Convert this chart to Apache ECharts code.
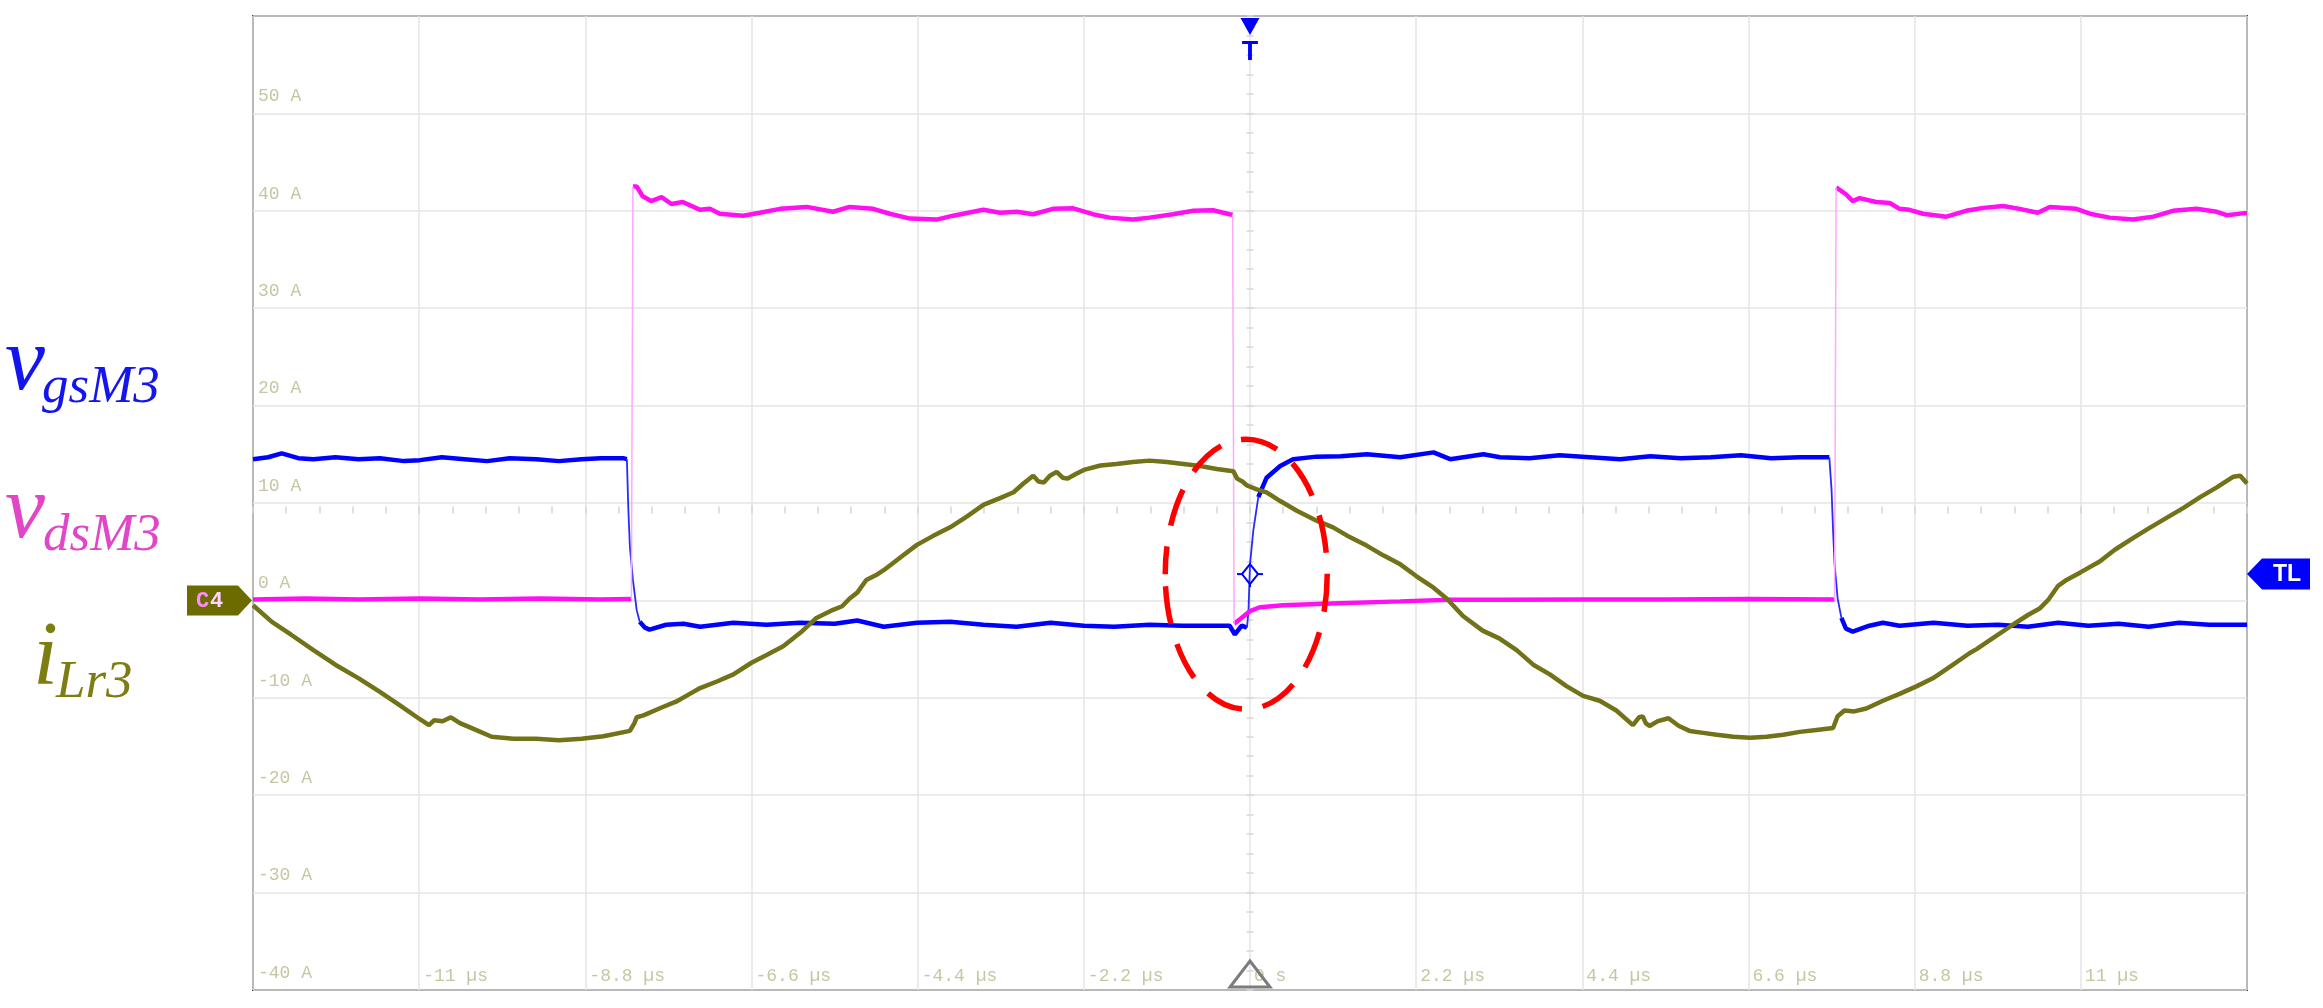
<!DOCTYPE html>
<html><head><meta charset="utf-8">
<script src="https://cdn.jsdelivr.net/npm/echarts@6/dist/echarts.min.js"></script>
<style>html,body{margin:0;padding:0;background:#fff;} #c{width:2323px;height:1008px;}</style>
</head><body><div id="c"></div>
<script>
// ---- tick labels ----
const xTickLabels = ['', '-11 µs', '-8.8 µs', '-6.6 µs', '-4.4 µs', '-2.2 µs', '0 s', '2.2 µs', '4.4 µs', '6.6 µs', '8.8 µs', '11 µs', ''];
const yTickLabels = ['-40 A', '-30 A', '-20 A', '-10 A', '0 A', '10 A', '20 A', '30 A', '40 A', '50 A', ''];

// ---- iLr3 (olive) [time µs, value] ----
const iLr3 = [[-13.2,-0.5],[-12.95,-2.2],[-12.7,-3.5],[-12.4,-5.1],[-12.11,-6.6],[-11.8,-8.0],[-11.52,-9.4],[-11.25,-10.8],[-10.99,-12.2],[-10.87,-12.8],[-10.8,-12.3],[-10.69,-12.4],[-10.58,-12.0],[-10.46,-12.6],[-10.25,-13.3],[-10.04,-14.0],[-9.75,-14.2],[-9.45,-14.2],[-9.15,-14.35],[-8.85,-14.2],[-8.56,-13.95],[-8.21,-13.4],[-8.15,-12.6],[-8.12,-12.0],[-8.03,-11.8],[-7.79,-11.0],[-7.6,-10.4],[-7.44,-9.7],[-7.28,-9.0],[-7.05,-8.3],[-6.84,-7.6],[-6.6,-6.4],[-6.4,-5.6],[-6.18,-4.7],[-5.95,-3.3],[-5.74,-1.8],[-5.52,-0.97],[-5.4,-0.6],[-5.3,0.2],[-5.2,0.8],[-5.08,2.1],[-4.95,2.6],[-4.85,3.1],[-4.63,4.4],[-4.41,5.7],[-4.2,6.6],[-3.97,7.5],[-3.75,8.6],[-3.53,9.8],[-3.31,10.5],[-3.13,11.1],[-3.0,12.0],[-2.87,12.8],[-2.8,12.2],[-2.73,12.1],[-2.65,12.8],[-2.56,13.2],[-2.48,12.6],[-2.42,12.5],[-2.3,13.0],[-2.2,13.4],[-1.98,13.85],[-1.77,14.0],[-1.55,14.2],[-1.33,14.35],[-1.1,14.2],[-0.88,14.0],[-0.66,13.8],[-0.44,13.5],[-0.22,13.25],[-0.17,12.5],[-0.1,12.2],[-0.04,11.8],[0.09,11.4],[0.22,11.1],[0.4,10.2],[0.62,9.2],[0.85,8.3],[1.1,7.5],[1.32,6.5],[1.55,5.6],[1.77,4.6],[1.99,3.7],[2.2,2.5],[2.43,1.3],[2.61,0.14],[2.82,-1.6],[3.08,-3.1],[3.3,-3.9],[3.53,-5.1],[3.75,-6.6],[3.97,-7.6],[4.19,-8.8],[4.41,-9.8],[4.63,-10.3],[4.85,-11.3],[5.07,-12.8],[5.15,-12.0],[5.2,-11.9],[5.24,-12.6],[5.29,-12.9],[5.4,-12.4],[5.54,-12.1],[5.68,-12.9],[5.82,-13.4],[6.0,-13.6],[6.18,-13.8],[6.4,-14.0],[6.62,-14.1],[6.84,-14.0],[7.06,-13.8],[7.28,-13.5],[7.5,-13.3],[7.72,-13.1],[7.78,-11.9],[7.87,-11.3],[8.0,-11.4],[8.16,-11.1],[8.38,-10.3],[8.6,-9.6],[8.83,-8.8],[9.04,-8.0],[9.27,-6.8],[9.53,-5.4],[9.62,-5.0],[9.85,-3.8],[10.1,-2.5],[10.3,-1.5],[10.46,-0.8],[10.57,0.07],[10.7,1.5],[10.81,2.1],[11.0,2.9],[11.25,4.0],[11.45,5.2],[11.69,6.4],[11.9,7.4],[12.14,8.5],[12.36,9.5],[12.58,10.6],[12.8,11.6],[13.02,12.7],[13.11,12.8],[13.2,12.0]];

// ---- vgsM3 (blue) segments ----
const vgsHigh1 = [[-13.2,14.5],[-13.0,14.7],[-12.82,15.1],[-12.6,14.6],[-12.4,14.5],[-12.11,14.7],[-11.8,14.5],[-11.52,14.6],[-11.2,14.3],[-10.99,14.4],[-10.7,14.7],[-10.4,14.5],[-10.1,14.3],[-9.8,14.6],[-9.45,14.5],[-9.15,14.3],[-8.85,14.5],[-8.6,14.6],[-8.3,14.6],[-8.25,14.5]];
const vgsFall1 = [[-8.25,14.5],[-8.23,9.25],[-8.21,5.5],[-8.17,2.1],[-8.12,-1.0],[-8.08,-2.2]];
const vgsLow1 = [[-8.08,-2.2],[-8.01,-2.8],[-7.95,-3.0],[-7.73,-2.5],[-7.5,-2.4],[-7.28,-2.7],[-6.84,-2.3],[-6.4,-2.5],[-5.96,-2.3],[-5.5,-2.4],[-5.2,-2.06],[-4.85,-2.7],[-4.41,-2.3],[-3.97,-2.2],[-3.53,-2.5],[-3.09,-2.7],[-2.64,-2.3],[-2.2,-2.6],[-1.8,-2.7],[-1.33,-2.5],[-0.9,-2.6],[-0.5,-2.6],[-0.27,-2.6],[-0.2,-3.5],[-0.11,-2.6],[-0.04,-2.8]];
const vgsRise1 = [[-0.04,-2.8],[-0.02,-1.06],[0,3.7],[0.044,7.2],[0.11,10.6]];
const vgsHigh2 = [[0.11,10.6],[0.22,12.6],[0.4,13.8],[0.57,14.5],[0.88,14.76],[1.2,14.8],[1.55,15.0],[1.99,14.7],[2.43,15.2],[2.65,14.5],[3.09,15.0],[3.31,14.7],[3.7,14.6],[4.1,14.9],[4.5,14.7],[4.9,14.5],[5.3,14.8],[5.7,14.6],[6.1,14.7],[6.5,14.9],[6.9,14.6],[7.28,14.7],[7.67,14.7]];
const vgsFall2 = [[7.67,14.7],[7.7,11.3],[7.72,7.1],[7.74,3.7],[7.78,0.2],[7.83,-1.8]];
const vgsLow2 = [[7.83,-1.8],[7.89,-2.9],[7.98,-3.2],[8.2,-2.6],[8.38,-2.3],[8.6,-2.6],[9.05,-2.3],[9.5,-2.6],[9.9,-2.5],[10.3,-2.7],[10.7,-2.3],[11.1,-2.6],[11.5,-2.4],[11.9,-2.7],[12.3,-2.3],[12.7,-2.5],[13.2,-2.5]];

// ---- vdsM3 (magenta) segments ----
const vdsLow1 = [[-13.2,0.1],[-12.5,0.2],[-11.8,0.1],[-11.0,0.2],[-10.2,0.1],[-9.4,0.2],[-8.6,0.1],[-8.19,0.15]];
const vdsRise1 = [[-8.19,0.15],[-8.17,42.5]];
const vdsHigh1 = [[-8.17,42.5],[-8.12,42.5],[-8.04,41.5],[-7.93,41.0],[-7.79,41.4],[-7.66,40.7],[-7.51,40.9],[-7.28,40.1],[-7.15,40.2],[-7.02,39.7],[-6.71,39.5],[-6.49,39.8],[-6.22,40.2],[-5.87,40.4],[-5.52,39.9],[-5.3,40.4],[-4.99,40.2],[-4.77,39.7],[-4.5,39.2],[-4.15,39.1],[-3.93,39.5],[-3.53,40.1],[-3.31,39.8],[-3.09,39.9],[-2.87,39.65],[-2.61,40.2],[-2.34,40.25],[-2.08,39.65],[-1.86,39.3],[-1.55,39.1],[-1.33,39.3],[-1.02,39.65],[-0.75,40.0],[-0.49,40.05],[-0.27,39.65],[-0.23,39.6]];
const vdsFall1 = [[-0.23,39.6],[-0.21,-2.4]];
const vdsLow2 = [[-0.21,-2.4],[-0.13,-1.9],[0,-1.1],[0.13,-0.7],[0.44,-0.5],[0.97,-0.34],[1.99,-0.1],[2.65,0.07],[3.31,0.07],[4.4,0.1],[5.5,0.1],[6.6,0.15],[7.74,0.1]];
const vdsRise2 = [[7.74,0.1],[7.76,42.4]];
const vdsHigh2 = [[7.76,42.4],[7.78,42.4],[7.89,41.7],[7.98,41.0],[8.07,41.3],[8.29,40.9],[8.47,40.8],[8.6,40.2],[8.73,40.1],[8.91,39.7],[9.22,39.4],[9.48,40.0],[9.71,40.3],[9.97,40.5],[10.19,40.2],[10.43,39.8],[10.59,40.4],[10.94,40.2],[11.12,39.7],[11.38,39.3],[11.69,39.1],[11.96,39.4],[12.22,40.0],[12.53,40.2],[12.8,39.9],[12.93,39.55],[13.17,39.76],[13.2,39.76]];

// ---- marker levels ----
const C4_LEVEL = 0;
const TRIGGER_TIME = 0;
const TRIGGER_LEVEL = 2.7;
const ELLIPSE_CENTER = [-0.05, 2.68];

const GL = 253, GT = 16, GW = 1994, GH = 974;
const join = (...segs) => { const out = []; segs.forEach((s, i) => { if (i) out.push('-'); s.forEach(p => out.push(p)); }); return out; };

const labelStyle = { color: '#c6c6a2', fontFamily: 'Liberation Mono', fontSize: 18 };
const gridLine = { show: true, lineStyle: { color: '#e4e4e4', width: 1.5 } };

const option = {
  animation: false,
  backgroundColor: '#ffffff',
  grid: { left: GL, top: GT, width: GW, height: GH, show: true, borderColor: '#3a3a3a', borderWidth: 2, backgroundColor: 'transparent' },
  xAxis: [
    { type: 'value', min: -13.2, max: 13.2, interval: 2.2, axisLine: { show: false }, axisTick: { show: false }, splitLine: gridLine,
      axisLabel: Object.assign({ inside: true, margin: 5, align: 'left', verticalAlign: 'bottom', padding: [0, 0, 0, 4],
        formatter: (v, i) => xTickLabels[i] || '' }, labelStyle) },
    { type: 'value', min: -13.2, max: 13.2, interval: 0.44, position: 'bottom', offset: -(GH / 2) - 3.5,
      axisLine: { show: false }, axisLabel: { show: false }, splitLine: { show: false },
      axisTick: { show: true, length: 7, lineStyle: { color: '#d6d6d6', width: 1.5 } } }
  ],
  yAxis: [
    { type: 'value', min: -40, max: 60, interval: 10, axisLine: { show: false }, axisTick: { show: false }, splitLine: gridLine,
      axisLabel: Object.assign({ inside: true, margin: 5, align: 'left', verticalAlign: 'bottom', padding: [0, 0, 8, 0],
        formatter: (v, i) => yTickLabels[i] || '' }, labelStyle) },
    { type: 'value', min: -40, max: 60, interval: 2, position: 'left', offset: -(GW / 2) - 3.5,
      axisLine: { show: false }, axisLabel: { show: false }, splitLine: { show: false },
      axisTick: { show: true, length: 7, lineStyle: { color: '#d6d6d6', width: 1.5 } } }
  ],
  series: [
    { type: 'line', name: 'vgs', data: join(vgsHigh1, vgsLow1, vgsHigh2, vgsLow2), showSymbol: false, symbol: 'none', connectNulls: false,
      lineStyle: { color: '#0000ff', width: 4.5 }, z: 2 },
    { type: 'line', name: 'vgsEdge', data: join(vgsFall1, vgsRise1, vgsFall2), symbol: 'none', connectNulls: false,
      lineStyle: { color: '#2a2aff', width: 1.8 }, z: 2 },
    { type: 'line', name: 'vds', data: join(vdsLow1, vdsHigh1, vdsLow2, vdsHigh2), symbol: 'none', connectNulls: false,
      lineStyle: { color: '#ff10f0', width: 4.5 }, z: 3 },
    { type: 'line', name: 'vdsEdge', data: join(vdsRise1, vdsFall1, vdsRise2), symbol: 'none', connectNulls: false,
      lineStyle: { color: '#ffa8ff', width: 1.5 }, z: 3 },
    { type: 'line', name: 'iLr', data: iLr3, symbol: 'none',
      lineStyle: { color: '#727218', width: 4.5 }, z: 4 }
  ]
};

const chart = echarts.init(document.getElementById('c'), null, { renderer: 'canvas' });
chart.setOption(option);

const px = (t, v) => chart.convertToPixel({ xAxisIndex: 0, yAxisIndex: 0 }, [t, v]);
const [x0, yTL] = px(TRIGGER_TIME, TRIGGER_LEVEL);
const yC4 = px(0, C4_LEVEL)[1];
const [ecx, ecy] = px(ELLIPSE_CENTER[0], ELLIPSE_CENTER[1]);
const serif = '"Liberation Serif","Times New Roman",serif';
const txt = (text, x, y, size, color) => ({ type: 'text', z: 100, style: { text, x, y, fill: color, font: 'italic ' + size + 'px ' + serif, align: 'left', verticalAlign: 'bottom' } });

chart.setOption({
  graphic: [
    // left channel names
    txt('v', 5, 410, 90, '#1414ee'), txt('gsM3', 42, 415, 53, '#1414ee'),
    txt('v', 5, 558, 90, '#e246c8'), txt('dsM3', 43, 563, 53, '#e246c8'),
    txt('i', 33, 705, 90, '#7d7d12'), txt('Lr3', 56, 710, 53, '#7d7d12'),
    // C4 marker
    { type: 'polygon', z: 100, shape: { points: [[187, yC4 - 15], [238, yC4 - 15], [252, yC4], [238, yC4 + 15], [187, yC4 + 15]] }, style: { fill: '#6b6b00' } },
    { type: 'text', z: 101, style: { text: 'C', x: 196, y: yC4 + 1, fill: '#ff8cff', font: 'bold 22px "Liberation Mono"', verticalAlign: 'middle' } },
    { type: 'text', z: 101, style: { text: '4', x: 210, y: yC4 + 1, fill: '#ffd4ff', font: 'bold 22px "Liberation Mono"', verticalAlign: 'middle' } },
    // TL marker
    { type: 'polygon', z: 100, shape: { points: [[GL + GW, yTL], [GL + GW + 15, yTL - 15.5], [2310, yTL - 15.5], [2310, yTL + 15.5], [GL + GW + 15, yTL + 15.5]] }, style: { fill: '#0000ff' } },
    { type: 'text', z: 101, style: { text: 'TL', x: 2287, y: yTL + 1, fill: '#ffffff', font: 'bold 23px "Liberation Sans"', align: 'center', verticalAlign: 'middle' } },
    // trigger T on top
    { type: 'polygon', z: 100, shape: { points: [[x0 - 9.5, GT + 2], [x0 + 9.5, GT + 2], [x0, GT + 19]] }, style: { fill: '#0000ff' } },
    { type: 'text', z: 100, style: { text: 'T', x: x0, y: GT + 37, fill: '#0000ff', font: 'bold 27px "Liberation Sans"', align: 'center', verticalAlign: 'middle' } },
    // bottom hollow triangle
    { type: 'polygon', z: 100, shape: { points: [[x0 - 20, GT + GH - 3], [x0 + 20, GT + GH - 3], [x0, GT + GH - 29]] }, style: { fill: 'none', stroke: '#7c7c7c', lineWidth: 3 } },
    // trigger diamond
    { type: 'polygon', z: 100, shape: { points: [[x0, yTL - 10], [x0 + 8, yTL], [x0, yTL + 10], [x0 - 8, yTL]] }, style: { fill: 'none', stroke: '#0000ff', lineWidth: 2 } },
    { type: 'line', z: 100, shape: { x1: x0 - 13, y1: yTL, x2: x0 - 8, y2: yTL }, style: { stroke: '#0000ff', lineWidth: 2 } },
    { type: 'line', z: 100, shape: { x1: x0 + 8, y1: yTL, x2: x0 + 13, y2: yTL }, style: { stroke: '#0000ff', lineWidth: 2 } },
    { type: 'line', z: 100, shape: { x1: x0, y1: yTL + 10, x2: x0, y2: yTL + 13 }, style: { stroke: '#0000ff', lineWidth: 2 } },
    // red dashed ellipse
    { type: 'ellipse', z: 110, shape: { cx: ecx, cy: ecy, rx: 81, ry: 135 }, style: { fill: 'none', stroke: '#ff0000', lineWidth: 5.5, lineDash: [38, 21], lineDashOffset: 10 } }
  ]
});
</script></body></html>
